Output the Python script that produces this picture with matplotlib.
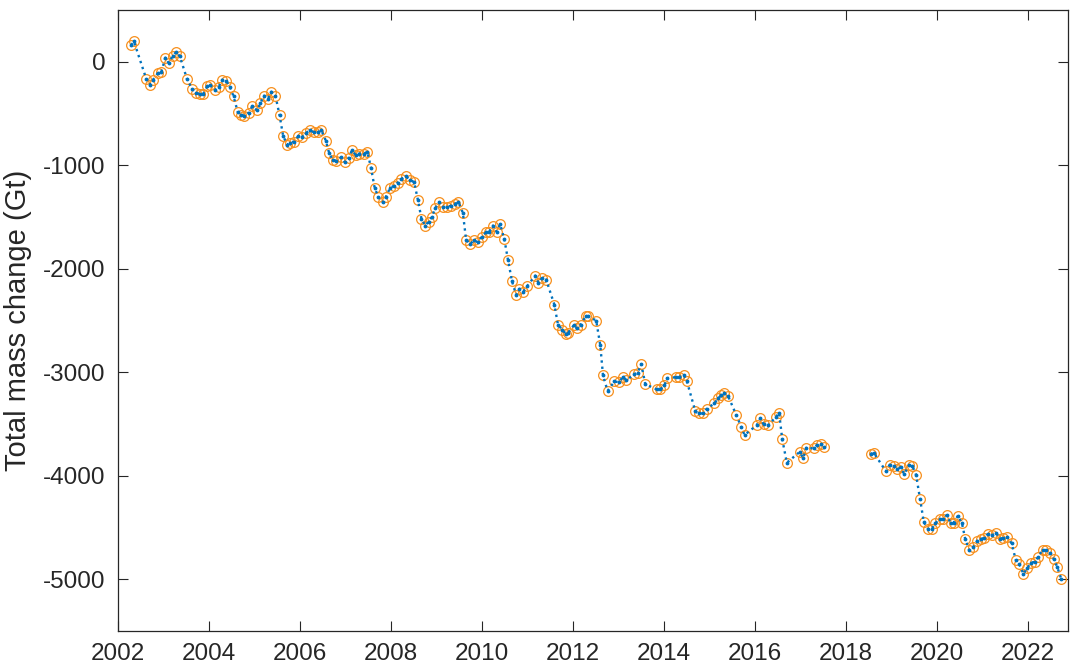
import numpy as np
from matplotlib import pyplot as plt

# decimal year / total mass change (Gt)
years = [
	2002.29, 2002.35, 2002.62, 2002.70, 2002.77, 2002.87, 2002.95, 2003.04, 2003.11, 2003.21,
	2003.28, 2003.36, 2003.52, 2003.63, 2003.72, 2003.80, 2003.87, 2003.96, 2004.02, 2004.13,
	2004.21, 2004.29, 2004.38, 2004.46, 2004.54, 2004.63, 2004.70, 2004.78, 2004.87, 2004.95,
	2005.06, 2005.13, 2005.21, 2005.29, 2005.37, 2005.46, 2005.55, 2005.63, 2005.72, 2005.78,
	2005.86, 2005.96, 2006.04, 2006.13, 2006.22, 2006.31, 2006.39, 2006.47, 2006.57, 2006.64,
	2006.72, 2006.80, 2006.90, 2006.99, 2007.07, 2007.14, 2007.23, 2007.30, 2007.40, 2007.48,
	2007.56, 2007.64, 2007.72, 2007.82, 2007.89, 2007.98, 2008.07, 2008.15, 2008.23, 2008.32,
	2008.42, 2008.51, 2008.59, 2008.67, 2008.75, 2008.83, 2008.90, 2008.97, 2009.06, 2009.15,
	2009.23, 2009.32, 2009.40, 2009.48, 2009.58, 2009.65, 2009.74, 2009.82, 2009.91, 2009.99,
	2010.09, 2010.16, 2010.24, 2010.32, 2010.40, 2010.49, 2010.57, 2010.66, 2010.75, 2010.82,
	2010.91, 2010.99, 2011.17, 2011.24, 2011.33, 2011.41, 2011.59, 2011.67, 2011.76, 2011.84,
	2011.89, 2012.03, 2012.08, 2012.17, 2012.28, 2012.33, 2012.51, 2012.60, 2012.66, 2012.76,
	2012.91, 2013.01, 2013.10, 2013.17, 2013.35, 2013.42, 2013.50, 2013.59, 2013.84, 2013.92,
	2014.01, 2014.07, 2014.27, 2014.34, 2014.43, 2014.50, 2014.69, 2014.76, 2014.86, 2014.94,
	2015.11, 2015.19, 2015.26, 2015.33, 2015.41, 2015.59, 2015.70, 2015.77, 2016.04, 2016.12,
	2016.19, 2016.29, 2016.46, 2016.53, 2016.60, 2016.70, 2016.98, 2017.06, 2017.13, 2017.29,
	2017.37, 2017.45, 2017.52,
	2018.54, 2018.61, 2018.88, 2018.96, 2019.05, 2019.12, 2019.20, 2019.28, 2019.38, 2019.46,
	2019.54, 2019.63, 2019.71, 2019.81, 2019.88, 2019.96, 2020.06, 2020.14, 2020.21, 2020.30,
	2020.37, 2020.46, 2020.55, 2020.62, 2020.71, 2020.80, 2020.88, 2020.97, 2021.04, 2021.13,
	2021.21, 2021.30, 2021.38, 2021.46, 2021.55, 2021.64, 2021.73, 2021.81, 2021.90, 2021.98,
	2022.07, 2022.15, 2022.23, 2022.32, 2022.40, 2022.48, 2022.57, 2022.64, 2022.73,
]
mass = [
	161, 196, -164, -222, -174, -113, -103, 39, -10, 58,
	96, 51, -171, -264, -302, -312, -312, -238, -222, -273,
	-244, -174, -183, -244, -335, -483, -515, -521, -495, -431,
	-470, -399, -328, -360, -290, -328, -515, -718, -801, -782,
	-772, -721, -731, -688, -663, -682, -682, -663, -765, -881,
	-949, -956, -924, -972, -930, -856, -904, -888, -891, -869,
	-1023, -1216, -1306, -1358, -1303, -1219, -1197, -1168, -1132, -1107,
	-1139, -1165, -1332, -1516, -1583, -1544, -1499, -1416, -1358, -1403,
	-1403, -1390, -1375, -1355, -1460, -1718, -1763, -1725, -1744, -1692,
	-1648, -1641, -1583, -1641, -1570, -1712, -1911, -2121, -2252, -2194,
	-2220, -2169, -2066, -2136, -2085, -2104, -2346, -2539, -2587, -2626,
	-2619, -2539, -2577, -2539, -2459, -2459, -2500, -2739, -3031, -3180,
	-3089, -3096, -3044, -3077, -3019, -3005, -2922, -3115, -3166, -3166,
	-3128, -3057, -3047, -3047, -3024, -3082, -3379, -3398, -3398, -3353,
	-3301, -3250, -3224, -3205, -3231, -3414, -3530, -3607, -3511, -3446,
	-3504, -3511, -3434, -3391, -3649, -3874, -3771, -3829, -3729, -3736,
	-3700, -3690, -3726,
	-3790, -3777, -3958, -3893, -3906, -3932, -3919, -3984, -3900, -3906,
	-3990, -4228, -4447, -4518, -4518, -4460, -4421, -4421, -4382, -4453,
	-4453, -4386, -4460, -4608, -4720, -4688, -4631, -4614, -4598, -4559,
	-4576, -4550, -4608, -4601, -4595, -4653, -4810, -4855, -4949, -4894,
	-4839, -4833, -4781, -4717, -4720, -4749, -4807, -4878, -4994,
]
x_ticks = list(range(2002, 2023, 2))
y_ticks = [0, -1000, -2000, -3000, -4000, -5000]

plt.rcParams['font.family'] = ['Liberation Sans', 'DejaVu Sans']
plt.rcParams['axes.unicode_minus'] = False

t = np.array(years, dtype=float)
m = np.array(mass, dtype=float)
# break the dotted line across the GRACE / GRACE-FO gap
gap = np.where(np.diff(t) > 0.5)[0]
t_line = np.insert(t, gap + 1, np.nan)
m_line = np.insert(m, gap + 1, np.nan)

fig = plt.figure(figsize=(10.7, 6.69), dpi=100)
ax = fig.add_axes([118 / 1070, 38 / 669, 950 / 1070, 621 / 669])

ax.plot(t, m, 'o', markersize=7, markerfacecolor='none', markeredgecolor='#f7901e', markeredgewidth=0.9)
ax.plot(t_line, m_line, ':', color='#0072bd', linewidth=1.7, marker='.', markersize=3.5)

ax.set_xlim(2002, 2022.88)
ax.set_ylim(-5500, 500)
ax.set_xticks(x_ticks)
ax.set_yticks(y_ticks)
ax.set_ylabel('Total mass change (Gt)', fontsize=21, color='#262626', labelpad=8)

ax.tick_params(direction='in', length=7, width=0.8, colors='#262626', labelsize=17.5,
			   top=True, right=True, pad=9)
for s in ax.spines.values():
	s.set_color('#262626')
	s.set_linewidth(0.9)

plt.savefig('out.png', dpi=100)
plt.close()
